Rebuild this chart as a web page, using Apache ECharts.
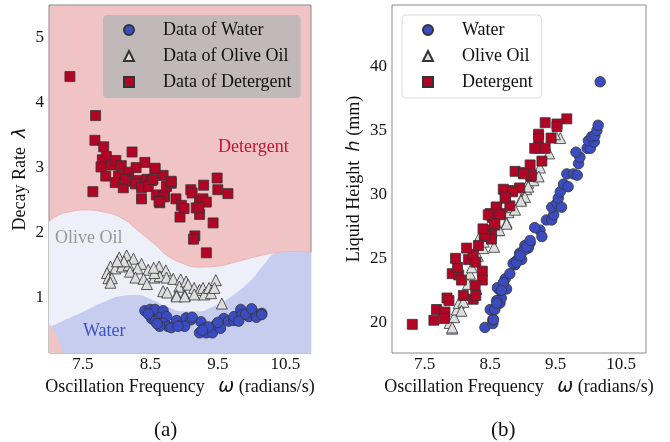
<!DOCTYPE html>
<html><head><meta charset="utf-8">
<script src="https://cdn.jsdelivr.net/npm/echarts@6/dist/echarts.min.js"></script>
<style>html,body{margin:0;padding:0;background:#fff}#c{width:670px;height:442px}</style>
</head><body><div id="c"></div>
<script>
// ---- Panel (a): omega vs decay rate lambda ----
const waterA = [[8.42,0.80],[8.50,0.82],[8.57,0.82],[8.69,0.80],[8.52,0.68],[8.64,0.69],[8.74,0.71],[8.69,0.61],[8.76,0.56],[8.81,0.54],[8.89,0.65],[8.96,0.58],[9.03,0.69],[9.10,0.66],[9.01,0.56],[9.25,0.63],[9.30,0.53],[9.23,0.46],[9.33,0.46],[9.42,0.46],[9.47,0.58],[9.54,0.53],[9.59,0.68],[9.66,0.64],[9.74,0.65],[9.74,0.71],[9.84,0.82],[9.86,0.74],[9.96,0.71],[10.01,0.80],[10.07,0.70],[10.15,0.76],[9.81,0.64],[8.91,0.56],[8.64,0.56],[8.57,0.64],[9.91,0.75],[10.15,0.74],[10.00,0.83],[9.12,0.70],[8.60,0.60],[8.47,0.75],[9.36,0.55],[9.50,0.62],[9.27,0.50]];
const oliveA = [[8.04,1.62],[8.15,1.65],[8.25,1.60],[7.91,1.48],[7.98,1.45],[8.08,1.48],[8.18,1.50],[8.37,1.52],[8.31,1.45],[8.47,1.43],[8.63,1.48],[8.73,1.42],[7.86,1.38],[7.88,1.30],[7.93,1.30],[7.91,1.23],[8.20,1.40],[8.28,1.31],[8.40,1.29],[8.45,1.21],[8.56,1.31],[8.64,1.33],[8.56,1.38],[8.74,1.31],[8.84,1.29],[8.95,1.28],[8.93,1.17],[9.03,1.25],[9.06,1.20],[8.69,1.10],[8.75,1.08],[8.89,1.04],[9.01,1.04],[9.15,1.15],[9.23,1.12],[9.28,1.15],[9.30,1.05],[9.37,1.15],[9.40,1.07],[9.47,1.27],[9.45,1.15],[9.56,0.91],[8.11,1.56],[8.01,1.56],[8.55,1.46],[9.15,1.05],[8.89,1.02],[9.01,1.02]];
const detergentA = [[7.31,4.40],[7.69,3.80],[7.68,3.42],[7.81,3.32],[8.23,3.24],[7.65,2.63],[7.84,2.87],[7.79,3.12],[7.85,3.17],[7.77,3.01],[7.92,3.04],[7.99,3.11],[8.07,3.03],[8.18,2.93],[8.29,3.00],[8.42,3.08],[8.57,2.98],[8.69,2.88],[8.03,2.87],[7.98,2.77],[8.10,2.69],[8.14,2.82],[8.24,2.79],[8.32,2.80],[8.28,2.75],[8.45,2.82],[8.52,2.80],[8.37,2.69],[8.47,2.71],[8.37,2.52],[8.59,2.58],[8.64,2.46],[8.71,2.56],[8.74,2.71],[8.81,2.76],[8.57,2.99],[8.54,2.82],[8.70,2.55],[8.63,2.48],[8.81,2.79],[8.88,2.52],[8.96,2.42],[9.00,2.37],[8.94,2.24],[9.10,2.66],[9.12,2.61],[9.29,2.73],[9.49,2.84],[9.50,2.66],[9.65,2.60],[9.23,2.49],[9.28,2.52],[9.33,2.47],[9.18,2.38],[9.23,2.28],[9.22,2.39],[9.43,2.15],[9.16,1.95],[9.14,1.90],[9.33,1.69]];
// decision-region boundaries
const detergentBoundary = [[7.0,2.17],[7.1,2.25],[7.3,2.32],[7.55,2.35],[7.8,2.32],[8.05,2.24],[8.3,2.05],[8.45,1.92],[8.6,1.79],[8.75,1.65],[9.0,1.52],[9.2,1.47],[9.45,1.48],[9.8,1.56],[10.1,1.64],[10.35,1.69],[10.6,1.71],[10.9,1.70]];
const waterBoundary = [[7.0,0.55],[7.2,0.64],[7.5,0.78],[7.8,0.93],[8.1,1.03],[8.3,1.04],[8.5,0.98],[8.75,0.86],[9.0,0.79],[9.2,0.79],[9.4,0.85],[9.7,1.02],[10.0,1.28],[10.2,1.53],[10.35,1.68],[10.6,1.71],[10.9,1.70]];
const cornerBoundary = [[7.0,0.60],[7.05,0.53],[7.1,0.44],[7.15,0.32],[7.2,0.15]];
// ---- Panel (b): omega vs liquid height h ----
const waterB = [[10.18,38.8],[8.42,19.6],[8.54,19.9],[8.54,20.2],[8.50,21.0],[8.57,21.0],[8.65,21.5],[8.67,21.9],[8.65,22.5],[8.75,22.6],[8.61,22.7],[8.73,23.4],[8.80,23.8],[8.88,24.5],[8.90,24.8],[8.98,24.9],[8.95,25.4],[9.03,26.0],[9.11,26.2],[9.08,25.8],[9.26,27.2],[9.29,26.7],[9.36,28.0],[9.44,28.0],[9.47,28.4],[9.44,29.0],[9.52,29.3],[9.54,29.7],[9.59,29.0],[9.57,30.2],[9.62,30.8],[9.69,30.6],[9.67,31.6],[9.77,31.6],[9.83,31.5],[9.85,32.4],[9.87,32.9],[9.81,33.3],[9.98,33.6],[10.03,33.6],[10.00,34.2],[10.09,34.1],[10.05,34.5],[10.10,34.6],[10.13,35.0],[10.15,35.4],[8.85,24.6],[9.01,25.6],[9.18,27.4],[8.70,23.1],[8.60,21.7],[8.55,20.2],[8.60,21.5],[8.67,22.5],[8.90,24.7],[8.95,25.2],[9.06,25.9],[9.11,26.4]];
const oliveB = [[7.92,19.5],[7.88,19.95],[7.95,20.4],[7.99,21.0],[8.02,21.5],[8.09,21.6],[8.11,22.2],[8.16,23.0],[8.19,23.8],[8.22,24.3],[8.31,25.2],[8.36,25.9],[8.33,26.6],[8.39,25.8],[8.56,25.9],[8.62,27.2],[8.75,27.8],[8.78,28.6],[8.83,29.0],[8.97,29.6],[9.05,30.4],[9.08,30.9],[9.16,31.1],[8.29,22.6],[8.06,20.9],[7.92,19.6],[9.57,34.4],[9.49,34.7],[9.40,33.2],[9.26,32.1],[9.24,31.4],[9.08,30.6],[9.03,29.8],[8.97,29.5],[8.88,28.8],[8.75,27.7],[8.64,27.2],[8.40,26.3]];
const detergentB = [[7.31,19.84],[7.64,20.16],[7.68,21.0],[7.81,20.8],[7.80,20.3],[7.84,21.9],[7.87,21.7],[8.09,22.1],[8.24,21.8],[8.28,22.1],[7.92,23.8],[8.02,23.7],[8.00,24.3],[7.97,25.0],[8.17,24.9],[8.28,24.7],[8.24,25.3],[8.14,25.8],[8.38,24.0],[8.38,23.3],[8.27,22.9],[8.06,23.3],[8.32,26.0],[8.41,26.7],[8.52,26.9],[8.52,26.5],[8.44,27.2],[8.57,27.6],[8.50,28.5],[8.53,28.2],[8.60,29.0],[8.66,28.5],[8.80,29.1],[8.73,29.7],[8.70,30.4],[8.84,30.3],[8.95,30.5],[8.88,31.8],[9.01,31.7],[9.11,32.3],[9.12,31.4],[9.34,35.6],[9.52,35.5],[9.67,35.9],[9.52,35.3],[9.43,34.4],[9.24,34.7],[9.24,34.4],[9.18,33.6],[9.24,33.6],[9.34,33.6],[9.29,32.6],[9.13,31.5],[9.01,31.6],[8.84,30.2],[8.73,29.8],[8.59,29.0],[8.52,28.4],[8.65,28.4],[8.47,28.4],[8.57,27.7],[8.42,26.8],[8.39,27.3]];
const xTicks = [7.5, 8.5, 9.5, 10.5];
const yTicksA = [1, 2, 3, 4, 5];
const yTicksB = [20, 25, 30, 35, 40];

const SERIF = 'Liberation Serif';
const C_WATER = '#3b4cc0', C_OLIVE = '#dddddd', C_DET = '#b40426';
const edge = {borderColor: '#333', borderWidth: 0.8, opacity: 1};

function xAxis(gi){
  return {gridIndex: gi, type: 'value', min: 7.0, max: 10.88,
    axisLine: {show: false}, axisTick: {show: false}, splitLine: {show: false},
    axisLabel: {customValues: xTicks, formatter: v => v.toFixed(1), fontFamily: SERIF, fontSize: 17, color: '#111', margin: 3},
    name: 'Oscillation Frequency   {w|ω} (radians/s)', nameLocation: 'middle', nameGap: 18,
    nameTextStyle: {fontFamily: SERIF, fontSize: 18, color: '#111', verticalAlign: 'top',
      rich: {w: {fontFamily: 'DejaVu Sans', fontStyle: 'italic', fontSize: 19, color: '#111'}}}};
}
function yAxis(gi, min, max, ticks, name, gap){
  return {gridIndex: gi, type: 'value', min: min, max: max,
    axisLine: {show: false}, axisTick: {show: false}, splitLine: {show: false},
    axisLabel: {customValues: ticks, fontFamily: SERIF, fontSize: 17, color: '#111', margin: 5},
    name: name, nameLocation: 'middle', nameGap: gap,
    nameTextStyle: {fontFamily: SERIF, fontSize: 18, color: '#111',
      rich: {m: {fontFamily: 'DejaVu Sans', fontStyle: 'italic', fontSize: 18, color: '#111'}}}};
}
function region(data, color, line){
  return {type: 'line', z: 1, xAxisIndex: 0, yAxisIndex: 0, data: data, smooth: 0.5, showSymbol: false, silent: true,
    lineStyle: line ? {color: line, width: 1} : {width: 0}, areaStyle: {color: color, opacity: 1, origin: 'start'}};
}
function legend(left, names, bg, border){
  return {left: left, top: 15, orient: 'vertical', data: names, padding: [5, 9, 6, 20], itemGap: 6,
    itemWidth: 10, itemHeight: 10, backgroundColor: bg, borderColor: border, borderWidth: border ? 1 : 0, borderRadius: 4,
    formatter: n => '{g|}' + n,
    textStyle: {fontFamily: SERIF, fontSize: 18, lineHeight: 20, color: '#111', rich: {g: {width: 24}}}};
}

const chart = echarts.init(document.getElementById('c'));
chart.setOption({
  animation: false,
  grid: [
    {left: 49, top: 5, width: 262, height: 348, show: true, backgroundColor: '#f0c4c4', borderColor: '#8a8a8a', borderWidth: 1},
    {left: 392, top: 5, width: 254, height: 348, show: true, backgroundColor: '#ffffff', borderColor: '#8a8a8a', borderWidth: 1}
  ],
  xAxis: [xAxis(0), xAxis(1)],
  yAxis: [
    yAxis(0, 0.15, 5.5, yTicksA, 'Decay Rate  {m|λ}', 20),
    yAxis(1, 17.6, 44.8, yTicksB, 'Liquid Height  {m|h} (mm)', 29)
  ],
  legend: [
    legend(103, ['Data of Water', 'Data of Olive Oil', 'Data of Detergent'], '#c1b9b9', null),
    legend(402, ['Water', 'Olive Oil', 'Detergent'], '#ffffff', '#dcdcdc')
  ],
  series: [
    region(detergentBoundary, '#edf0f8', '#e9b3b6'),
    region(waterBoundary, '#c6cdee', null),
    region(cornerBoundary, '#f0c4c4', null),
    {name: 'Data of Water', type: 'scatter', z: 3, xAxisIndex: 0, yAxisIndex: 0, data: waterA, symbol: 'circle', symbolSize: 10.5, itemStyle: Object.assign({color: C_WATER}, edge)},
    {name: 'Data of Olive Oil', type: 'scatter', z: 3, xAxisIndex: 0, yAxisIndex: 0, data: oliveA, symbol: 'triangle', symbolSize: 11, itemStyle: Object.assign({color: C_OLIVE}, edge)},
    {name: 'Data of Detergent', type: 'scatter', z: 3, xAxisIndex: 0, yAxisIndex: 0, data: detergentA, symbol: 'rect', symbolSize: 10, itemStyle: Object.assign({color: C_DET}, edge)},
    {name: 'Water', type: 'scatter', z: 3, xAxisIndex: 1, yAxisIndex: 1, data: waterB, symbol: 'circle', symbolSize: 10.5, itemStyle: Object.assign({color: C_WATER}, edge)},
    {name: 'Olive Oil', type: 'scatter', z: 3, xAxisIndex: 1, yAxisIndex: 1, data: oliveB, symbol: 'triangle', symbolSize: 11, itemStyle: Object.assign({color: C_OLIVE}, edge)},
    {name: 'Detergent', type: 'scatter', z: 3, xAxisIndex: 1, yAxisIndex: 1, data: detergentB, symbol: 'rect', symbolSize: 10, itemStyle: Object.assign({color: C_DET}, edge)}
  ],
  graphic: [
    {type: 'text', left: 218, top: 138, z: 100, style: {text: 'Detergent', fontFamily: SERIF, fontSize: 18, fill: '#c0143a'}},
    {type: 'text', left: 55, top: 229, z: 100, style: {text: 'Olive Oil', fontFamily: SERIF, fontSize: 18, fill: '#999999'}},
    {type: 'text', left: 83, top: 322, z: 100, style: {text: 'Water', fontFamily: SERIF, fontSize: 18, fill: '#3c50c8'}},
    {type: 'text', left: 154, top: 420, style: {text: '(a)', fontFamily: SERIF, fontSize: 21, fill: '#111'}},
    {type: 'text', left: 491, top: 420, style: {text: '(b)', fontFamily: SERIF, fontSize: 21, fill: '#111'}}
  ]
});
</script></body></html>
